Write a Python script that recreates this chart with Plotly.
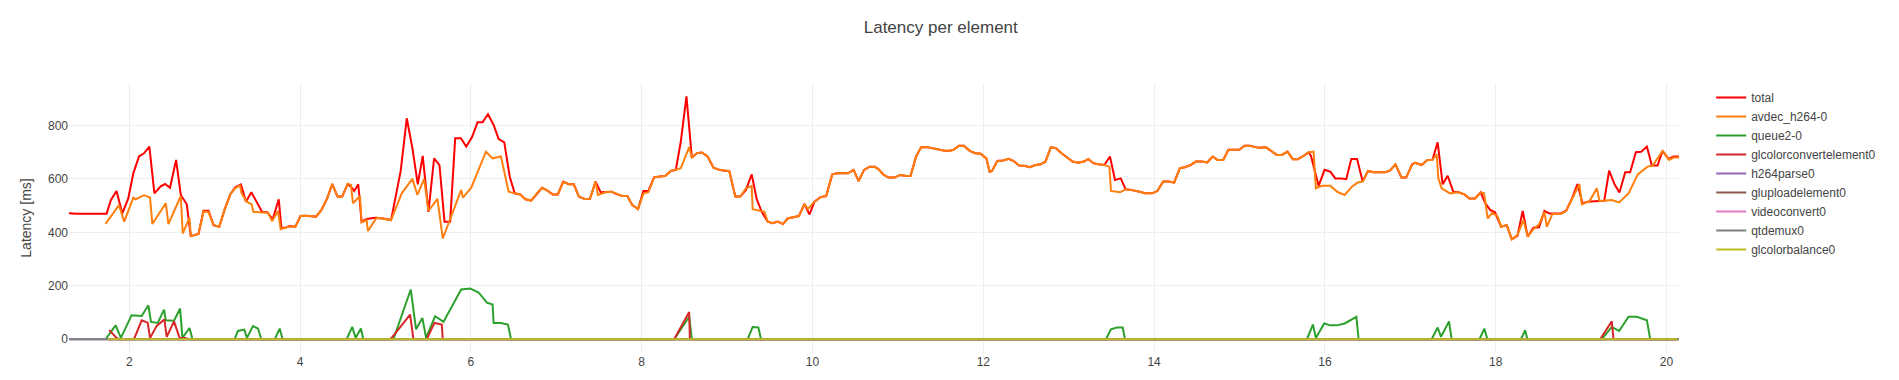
import plotly.graph_objects as go

# ---- data (time in s, latency in ms) ----
total_t = [1.292, 1.382, 1.734, 1.785, 1.851, 1.918, 1.988, 2.047, 2.114, 2.172, 2.235, 2.294, 2.368, 2.419, 2.477,
           2.548, 2.603, 2.673, 2.720, 2.771, 2.810, 2.869, 2.928, 2.986, 3.053, 3.115, 3.182, 3.241, 3.307, 3.366,
           3.429, 3.495, 3.554, 3.616, 3.679, 3.750, 3.781, 3.828, 3.875, 3.945, 4.004, 4.063, 4.121, 4.188, 4.250,
           4.317, 4.376, 4.438, 4.493, 4.556, 4.595, 4.634, 4.681, 4.720, 4.779, 4.877, 4.975, 5.065, 5.178, 5.249,
           5.315, 5.378, 5.436, 5.503, 5.569, 5.632, 5.691, 5.757, 5.816, 5.883, 5.945, 6.012, 6.078, 6.137, 6.200,
           6.266, 6.325, 6.391, 6.454, 6.513, 6.579, 6.638, 6.705, 6.767, 6.834, 6.900, 6.959, 7.018, 7.080, 7.147,
           7.205, 7.264, 7.331, 7.393, 7.460, 7.519, 7.577, 7.648, 7.714, 7.773, 7.832, 7.890, 7.957, 8.020, 8.078,
           8.145, 8.211, 8.274, 8.341, 8.399, 8.458, 8.524, 8.587, 8.646, 8.705, 8.771, 8.841, 8.908, 8.967, 9.025,
           9.096, 9.155, 9.221, 9.288, 9.346, 9.405, 9.476, 9.534, 9.593, 9.652, 9.710, 9.777, 9.840, 9.906, 9.965,
           10.023, 10.094, 10.160, 10.231, 10.290, 10.356, 10.415, 10.481, 10.540, 10.603, 10.669, 10.728, 10.771,
           10.834, 10.892, 10.959, 11.025, 11.088, 11.147, 11.213, 11.272, 11.342, 11.409, 11.468, 11.534, 11.593,
           11.652, 11.714, 11.773, 11.840, 11.906, 11.969, 12.035, 12.074, 12.102, 12.164, 12.231, 12.297, 12.356,
           12.419, 12.477, 12.544, 12.611, 12.673, 12.728, 12.791, 12.849, 12.916, 12.982, 13.045, 13.112, 13.178,
           13.229, 13.288, 13.346, 13.417, 13.483, 13.542, 13.609, 13.667, 13.730, 13.796, 13.855, 13.890, 13.977,
           14.039, 14.106, 14.172, 14.235, 14.301, 14.360, 14.427, 14.489, 14.556, 14.622, 14.685, 14.744, 14.810,
           14.869, 14.935, 14.998, 15.057, 15.123, 15.182, 15.241, 15.307, 15.370, 15.436, 15.495, 15.562, 15.624,
           15.683, 15.750, 15.808, 15.836, 15.926, 15.996, 16.063, 16.121, 16.192, 16.250, 16.309, 16.376, 16.442,
           16.505, 16.571, 16.630, 16.701, 16.759, 16.826, 16.896, 16.951, 17.022, 17.058, 17.133, 17.199, 17.258,
           17.320, 17.379, 17.437, 17.504, 17.563, 17.633, 17.691, 17.758, 17.824, 17.875, 17.934, 17.992, 18.063,
           18.129, 18.188, 18.254, 18.316, 18.375, 18.441, 18.508, 18.570, 18.629, 18.695, 18.762, 18.824, 18.891,
           18.957, 19.016, 19.078, 19.137, 19.203, 19.270, 19.328, 19.391, 19.449, 19.516, 19.574, 19.641, 19.703,
           19.770, 19.828, 19.895, 19.953, 20.023, 20.082, 20.146]
total_v = [472, 470, 470, 521, 555, 471, 527, 621, 684, 696, 721, 546, 572, 581, 567,
           671, 540, 505, 386, 390, 394, 481, 481, 427, 421, 484, 542, 569, 579, 515,
           550, 512, 477, 475, 449, 524, 417, 417, 424, 421, 461, 462, 461, 459, 484,
           527, 581, 534, 534, 581, 571, 555, 580, 440, 450, 455, 452, 446, 630, 827,
           715, 580, 686, 477, 677, 652, 440, 440, 752, 752, 721, 756, 812, 812, 842,
           802, 749, 737, 609, 546, 542, 524, 519, 544, 567, 555, 542, 542, 590, 580,
           580, 534, 525, 525, 590, 550, 550, 552, 542, 536, 536, 502, 487, 555, 555,
           606, 609, 611, 630, 634, 740, 909, 680, 696, 699, 684, 642, 634, 631, 630,
           534, 534, 559, 617, 525, 477, 440, 434, 440, 431, 452, 456, 461, 506, 467,
           515, 532, 536, 617, 621, 621, 621, 634, 592, 634, 646, 646, 637,
           615, 605, 605, 615, 612, 611, 684, 719, 719, 715, 709, 706, 705,
           709, 724, 724, 705, 696, 694, 677, 627, 630, 667, 669, 675, 667,
           650, 649, 644, 652, 655, 665, 719, 715, 696, 680, 665, 661, 665,
           675, 659, 655, 652, 684, 596, 602, 561, 559, 555, 550, 546, 546,
           555, 590, 590, 586, 640, 644, 652, 665, 665, 662, 684, 671, 671,
           709, 709, 709, 724, 724, 719, 717, 719, 705, 690, 690, 702, 674,
           674, 686, 699, 687, 574, 634, 627, 602, 602, 599, 675, 675, 590,
           630, 625, 625, 625, 630, 655, 605, 605, 655, 660, 652, 671, 671,
           737, 580, 612, 552, 550, 542, 527, 527, 550, 511, 484, 475, 421,
           427, 374, 387, 480, 384, 417, 419, 480, 471, 471, 471, 481, 525,
           581, 509, 515, 517, 517, 517, 631, 580, 549, 625, 625, 700, 702,
           721, 650, 650, 705, 675, 684, 684]

avdec_t = [1.722, 1.879, 1.941, 2.047, 2.074, 2.172, 2.243, 2.270, 2.427, 2.458, 2.603, 2.626, 2.705, 2.720, 2.771,
           2.810, 2.869, 2.928, 2.986, 3.053, 3.115, 3.182, 3.241, 3.296, 3.315, 3.374, 3.433, 3.452, 3.546, 3.624,
           3.671, 3.741, 3.773, 3.859, 3.945, 4.004, 4.063, 4.121, 4.188, 4.250, 4.317, 4.376, 4.438, 4.493, 4.556,
           4.595, 4.619, 4.701, 4.720, 4.779, 4.795, 4.897, 5.065, 5.190, 5.315, 5.374, 5.452, 5.503, 5.608, 5.671,
           5.757, 5.886, 5.906, 6.004, 6.176, 6.254, 6.352, 6.442, 6.513, 6.579, 6.638, 6.705, 6.767, 6.834, 6.900,
           6.959, 7.018, 7.080, 7.147, 7.205, 7.264, 7.331, 7.393, 7.460, 7.487, 7.577, 7.648, 7.714, 7.773, 7.832,
           7.890, 7.957, 8.020, 8.078, 8.145, 8.211, 8.274, 8.341, 8.399, 8.458, 8.556, 8.587, 8.646, 8.705, 8.771,
           8.841, 8.908, 8.967, 9.025, 9.096, 9.155, 9.221, 9.288, 9.299, 9.437, 9.476, 9.534, 9.593, 9.652, 9.710,
           9.777, 9.840, 9.906, 9.945, 10.023, 10.094, 10.160, 10.231, 10.290, 10.356, 10.415, 10.481, 10.540,
           10.603, 10.669, 10.728, 10.771, 10.834, 10.892, 10.959, 11.025, 11.088, 11.147, 11.213, 11.272, 11.342,
           11.409, 11.468, 11.534, 11.593, 11.652, 11.714, 11.773, 11.840, 11.906, 11.969, 12.035, 12.074, 12.102,
           12.164, 12.231, 12.297, 12.356, 12.419, 12.477, 12.544, 12.611, 12.673, 12.728, 12.791, 12.849, 12.916,
           12.982, 13.045, 13.112, 13.178, 13.229, 13.288, 13.346, 13.417, 13.476, 13.495, 13.601, 13.667, 13.730,
           13.796, 13.855, 13.890, 13.977, 14.039, 14.106, 14.172, 14.235, 14.301, 14.360, 14.427, 14.489, 14.556,
           14.622, 14.685, 14.744, 14.810, 14.869, 14.935, 14.998, 15.057, 15.123, 15.182, 15.241, 15.307, 15.370,
           15.436, 15.495, 15.562, 15.624, 15.683, 15.750, 15.808, 15.867, 15.894, 15.965, 16.063, 16.153, 16.231,
           16.317, 16.384, 16.442, 16.505, 16.571, 16.630, 16.701, 16.759, 16.826, 16.896, 16.951, 17.022, 17.058,
           17.133, 17.199, 17.258, 17.309, 17.328, 17.367, 17.465, 17.563, 17.633, 17.691, 17.758, 17.824, 17.863,
           17.906, 17.961, 18.023, 18.063, 18.129, 18.188, 18.254, 18.324, 18.375, 18.441, 18.508, 18.570, 18.598,
           18.664, 18.762, 18.824, 18.891, 18.980, 19.008, 19.098, 19.184, 19.215, 19.359, 19.445, 19.555, 19.664,
           19.777, 19.836, 19.953, 20.031, 20.082, 20.146]
avdec_v = [432, 502, 440, 530, 524, 539, 531, 431, 509, 431, 536, 396, 455, 386, 390,
           394, 478, 476, 427, 421, 484, 542, 566, 575, 546, 515, 505, 477, 474, 474,
           442, 480, 412, 421, 421, 461, 462, 461, 459, 484, 527, 581, 534, 534, 581,
           578, 509, 536, 437, 446, 405, 455, 446, 546, 600, 540, 600, 480, 525, 377,
           452, 559, 530, 567, 702, 677, 684, 552, 546, 542, 524, 519, 544, 567, 555,
           542, 542, 588, 580, 580, 534, 525, 525, 590, 540, 550, 552, 542, 536, 536,
           502, 487, 545, 550, 606, 609, 611, 630, 634, 640, 719, 680, 696, 699, 684,
           642, 634, 631, 630, 534, 534, 565, 574, 487, 477, 440, 434, 440, 431, 452,
           456, 461, 506, 487, 515, 532, 536, 617, 621, 621, 621, 634, 592,
           634, 646, 646, 637, 615, 605, 605, 615, 612, 611, 684, 719, 719,
           715, 709, 706, 705, 709, 724, 724, 705, 696, 694, 677, 627, 630,
           667, 669, 675, 667, 650, 649, 644, 652, 655, 665, 719, 715, 696,
           680, 665, 661, 665, 675, 659, 655, 652, 646, 555, 550, 561, 559,
           555, 550, 546, 546, 555, 590, 590, 586, 640, 644, 652, 665, 665,
           662, 684, 671, 671, 709, 709, 709, 724, 724, 719, 717, 719, 705,
           690, 690, 702, 674, 674, 686, 699, 702, 565, 574, 574, 550, 540,
           571, 587, 590, 630, 625, 625, 625, 630, 655, 605, 605, 655, 660,
           652, 671, 671, 692, 602, 565, 546, 550, 542, 527, 527, 550, 546,
           452, 474, 459, 421, 427, 374, 390, 446, 384, 412, 430, 477, 421,
           469, 469, 480, 525, 581, 505, 517, 565, 517, 521, 512, 546, 617,
           646, 649, 705, 671, 680, 680]

queue2_t = [1.722, 1.840, 1.902, 2.027, 2.145, 2.223, 2.254, 2.333, 2.407, 2.427, 2.524, 2.595, 2.622, 2.705, 2.740,
            3.233, 3.272, 3.346, 3.378, 3.448, 3.507, 3.546, 3.703, 3.761, 3.796, 4.544, 4.611, 4.650, 4.712, 4.740,
            5.092, 5.296, 5.358, 5.432, 5.475, 5.581, 5.679, 5.886, 5.992, 6.090, 6.188, 6.254, 6.266, 6.352, 6.434,
            6.470, 8.380, 8.556, 8.587, 9.241, 9.299, 9.366, 9.397, 13.436, 13.495, 13.562, 13.632, 13.659, 15.789,
            15.859, 15.894, 15.992, 16.063, 16.141, 16.231, 16.368, 16.395, 17.250, 17.320, 17.359, 17.453, 17.484,
            17.809, 17.867, 17.902, 18.297, 18.344, 18.371, 19.242, 19.359, 19.445, 19.555, 19.652, 19.770, 19.809,
            20.130]
queue2_v = [0, 52, 5, 90, 87, 127, 65, 61, 111, 71, 69, 115, 5, 42, 0,
            0, 31, 36, 5, 49, 40, 0, 0, 40, 0, 0, 46, 5, 40, 0,
            0, 186, 37, 80, 5, 86, 65, 186, 190, 175, 137, 130, 61, 61, 55,
            0, 0, 84, 0, 0, 46, 44, 0, 0, 37, 44, 44, 0, 0,
            55, 5, 59, 52, 52, 59, 84, 0, 0, 44, 9, 67, 0,
            0, 40, 0, 0, 34, 0, 0, 46, 31, 84, 84, 71, 0,
            0]

glconv_t = [1.765, 1.851, 1.880, 2.055, 2.145, 2.215, 2.243, 2.321, 2.411, 2.438, 2.524, 2.587, 2.654, 2.700,
            5.045, 5.072, 5.288, 5.327, 5.483, 5.573, 5.659, 5.671, 8.380, 8.556, 8.564, 19.223, 19.359, 19.379,
            20.130]
glconv_v = [34, 5, 0, 0, 71, 62, 5, 50, 74, 9, 67, 6, 5, 0,
            0, 5, 92, 0, 0, 61, 55, 0, 0, 102, 0, 0, 67, 0,
            0]

zero_full_t = [1.292, 20.146]
zero_full_v = [0, 0]
zero_late_t = [1.750, 20.130]
zero_late_v = [0, 0]

series = [
    ("total", total_t, total_v, "#ff0000"),
    ("avdec_h264-0", avdec_t, avdec_v, "#ff7f0e"),
    ("queue2-0", queue2_t, queue2_v, "#2ca02c"),
    ("glcolorconvertelement0", glconv_t, glconv_v, "#d62728"),
    ("h264parse0", zero_full_t, zero_full_v, "#9467bd"),
    ("gluploadelement0", zero_late_t, zero_late_v, "#8c564b"),
    ("videoconvert0", zero_late_t, zero_late_v, "#e377c2"),
    ("qtdemux0", zero_full_t, zero_full_v, "#7f7f7f"),
    ("glcolorbalance0", zero_late_t, zero_late_v, "#bcbd22"),
]

fig = go.Figure()
for name, t, v, c in series:
    fig.add_trace(go.Scatter(x=t, y=v, mode="lines", name=name, line=dict(color=c, width=2)))

fig.update_layout(
    template="none",
    width=1899, height=380,
    font=dict(family="Liberation Sans, Arial, sans-serif", size=12, color="#444"),
    title=dict(text="Latency per element", x=0.4954, xref="container", xanchor="center",
               y=0.929, yref="container", yanchor="middle", font=dict(size=17)),
    margin=dict(l=69, r=220, t=83, b=27, pad=0),
    paper_bgcolor="white", plot_bgcolor="white",
    xaxis=dict(range=[1.294, 20.146], showgrid=True, gridcolor="#eee", zeroline=False,
               showline=False, ticks="", automargin=False, dtick=2),
    yaxis=dict(range=[-51.5, 959], showgrid=True, gridcolor="#eee", zeroline=False,
               showline=False, ticks="", automargin=False, dtick=200,
               title=dict(text="Latency [ms]")),
    legend=dict(x=1.02, y=1, xanchor="left", yanchor="top"),
    showlegend=True,
)

fig.write_html("out.html")
